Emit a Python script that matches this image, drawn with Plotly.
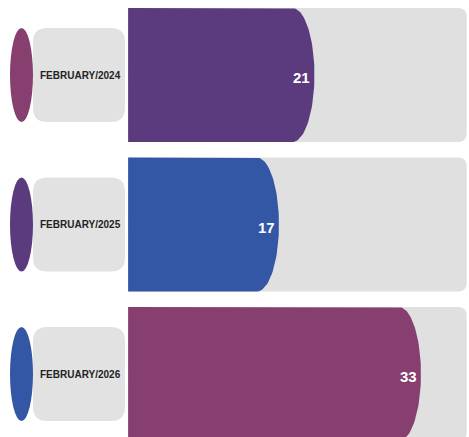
import numpy as np
import plotly.graph_objects as go

# ---- data ----
categories = ["FEBRUARY/2024", "FEBRUARY/2025", "FEBRUARY/2026"]
values = [21, 17, 33]
bar_colors = ["#5b3a7d", "#3356a5", "#873f70"]
dot_colors = ["#873f70", "#5b3a7d", "#3356a5"]

# ---- layout constants ----
W, H = 469, 437
PX_PER_UNIT = 8.875
ZERO_PX = 128.1
ROW_PX = 149.5
FIRST_CENTER_PX = 75
TRACK_MAX = 38.15
BAR_W = 0.896
END_RX_PX = 22

x_range = [-ZERO_PX / PX_PER_UNIT, (W - ZERO_PX) / PX_PER_UNIT]
y_top = -FIRST_CENTER_PX / ROW_PX
y_bot = (H - FIRST_CENTER_PX) / ROW_PX

fig = go.Figure()
ypos = list(range(len(categories)))

# background tracks
fig.add_trace(go.Bar(
    x=[TRACK_MAX] * len(categories), y=ypos, orientation="h", width=BAR_W,
    marker=dict(color="#e0e0e0", cornerradius=8, line=dict(width=0)),
    hoverinfo="skip", showlegend=False,
))

# value bars with elliptical ends
rx = END_RX_PX / PX_PER_UNIT
h = BAR_W / 2
t = np.linspace(-np.pi / 2, np.pi / 2, 60)
for i, (v, c) in enumerate(zip(values, bar_colors)):
    xs = [0, v - rx] + list(v - rx + rx * np.cos(t)) + [v - rx, 0, 0]
    ys = [i - h, i - h] + list(i + h * np.sin(t)) + [i + h, i + h, i - h]
    fig.add_trace(go.Scatter(
        x=xs, y=ys, mode="lines", fill="toself", fillcolor=c,
        line=dict(width=0, color=c), hoverinfo="skip", showlegend=False,
    ))

FONT = "Liberation Sans, Arial, sans-serif"
annotations = []
shapes = []
pill_x0, pill_x1 = 33 / W, 125 / W
dot_x0, dot_x1 = 10 / W, 33 / W
ph = 47 / ROW_PX
rpx = 14
rxp, ryp = rpx / W, rpx / ROW_PX
for i, (cat, v, dc) in enumerate(zip(categories, values, dot_colors)):
    y0, y1 = i - ph, i + ph
    path = (f"M {pill_x0 + rxp} {y0} L {pill_x1 - rxp} {y0} Q {pill_x1} {y0} {pill_x1} {y0 + ryp} "
            f"L {pill_x1} {y1 - ryp} Q {pill_x1} {y1} {pill_x1 - rxp} {y1} "
            f"L {pill_x0 + rxp} {y1} Q {pill_x0} {y1} {pill_x0} {y1 - ryp} "
            f"L {pill_x0} {y0 + ryp} Q {pill_x0} {y0} {pill_x0 + rxp} {y0} Z")
    shapes.append(dict(type="path", path=path, xref="paper", yref="y",
                       fillcolor="#e2e2e2", line=dict(width=0), layer="above"))
    shapes.append(dict(type="circle", xref="paper", yref="y",
                       x0=dot_x0, x1=dot_x1, y0=y0, y1=y1,
                       fillcolor=dc, line=dict(width=0), layer="above"))
    annotations.append(dict(
        x=(pill_x0 + pill_x1) / 2 + 1 / W, y=i, xref="paper", yref="y",
        text=f"<b>{cat}</b>", showarrow=False, xanchor="center", yanchor="middle",
        font=dict(family=FONT, size=10, color="#222222"),
    ))
    annotations.append(dict(
        x=v, y=i + 0.02, xref="x", yref="y", text=f"<b>{v}</b>", showarrow=False,
        xanchor="right", yanchor="middle", xshift=-2,
        font=dict(family=FONT, size=15, color="#ffffff"),
    ))

fig.update_layout(
    width=W, height=H, margin=dict(l=0, r=0, t=0, b=0),
    paper_bgcolor="#ffffff", plot_bgcolor="#ffffff",
    xaxis=dict(range=x_range, visible=False, fixedrange=True),
    yaxis=dict(range=[y_bot, y_top], visible=False, fixedrange=True),
    shapes=shapes, annotations=annotations, barmode="overlay",
    showlegend=False,
)

fig.write_html(
    "out.html",
    config={"displayModeBar": False},
    post_script="document.body.style.margin='0';document.body.style.overflow='hidden';",
)
